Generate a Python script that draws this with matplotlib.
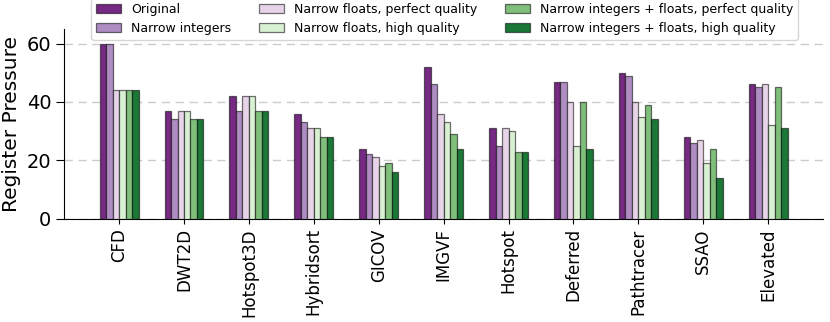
import numpy as np
import matplotlib
matplotlib.use('Agg')
import matplotlib.pyplot as plt

benchmarks = ['CFD', 'DWT2D', 'Hotspot3D', 'Hybridsort', 'GICOV', 'IMGVF',
              'Hotspot', 'Deferred', 'Pathtracer', 'SSAO', 'Elevated']

original      = [60, 37, 42, 36, 24, 52, 31, 47, 50, 28, 46]
narrow_int    = [60, 34, 37, 33, 22, 46, 25, 47, 49, 26, 45]
nf_perfect    = [44, 37, 42, 31, 21, 36, 31, 40, 40, 27, 46]
nf_high       = [44, 37, 42, 31, 18, 33, 30, 25, 35, 19, 32]
nif_perfect   = [44, 34, 37, 28, 19, 29, 23, 40, 39, 24, 45]
nif_high      = [44, 34, 37, 28, 16, 24, 23, 24, 34, 14, 31]

series = [original, narrow_int, nf_perfect, nf_high, nif_perfect, nif_high]
labels = ['Original', 'Narrow integers', 'Narrow floats, perfect quality',
          'Narrow floats, high quality', 'Narrow integers + floats, perfect quality',
          'Narrow integers + floats, high quality']
colors = ['#762a83', '#af8dc3', '#e7d4e8', '#d9f0d3', '#7fbf7b', '#1b7837']

fig = plt.figure(figsize=(8.3, 3.22), dpi=100)
ax = fig.add_axes([0.077, 0.321, 0.915, 0.589])

x = np.arange(len(benchmarks))
w = 0.1
edge = (0, 0, 0, 0.55)
handles = []
for i, (vals, lab, col) in enumerate(zip(series, labels, colors)):
    b = ax.bar(x + (i - 2.5) * w, vals, w, color=col, edgecolor=edge,
               linewidth=0.9, label=lab, zorder=3)
    handles.append(b)

ax.set_xlim(-0.85, 10.85)
ax.set_ylim(0, 65)
ax.set_yticks([0, 20, 40, 60])
ax.set_xticks(x)
ax.set_xticklabels(benchmarks, rotation=90, fontsize=12)
ax.tick_params(axis='y', labelsize=14, length=5.5)
ax.set_ylabel('Register Pressure', fontsize=14.5)
ax.yaxis.grid(True, linestyle=(0, (6, 4)), color='#cccccc', linewidth=1, zorder=0)
ax.spines['top'].set_visible(False)
ax.spines['right'].set_visible(False)

fig.legend(handles=handles, loc='lower center', bbox_to_anchor=(0.5355, 0.876),
           ncol=3, fontsize=9, columnspacing=2.2, handlelength=2.0,
           borderaxespad=0)

fig.savefig('out.png', dpi=100)
